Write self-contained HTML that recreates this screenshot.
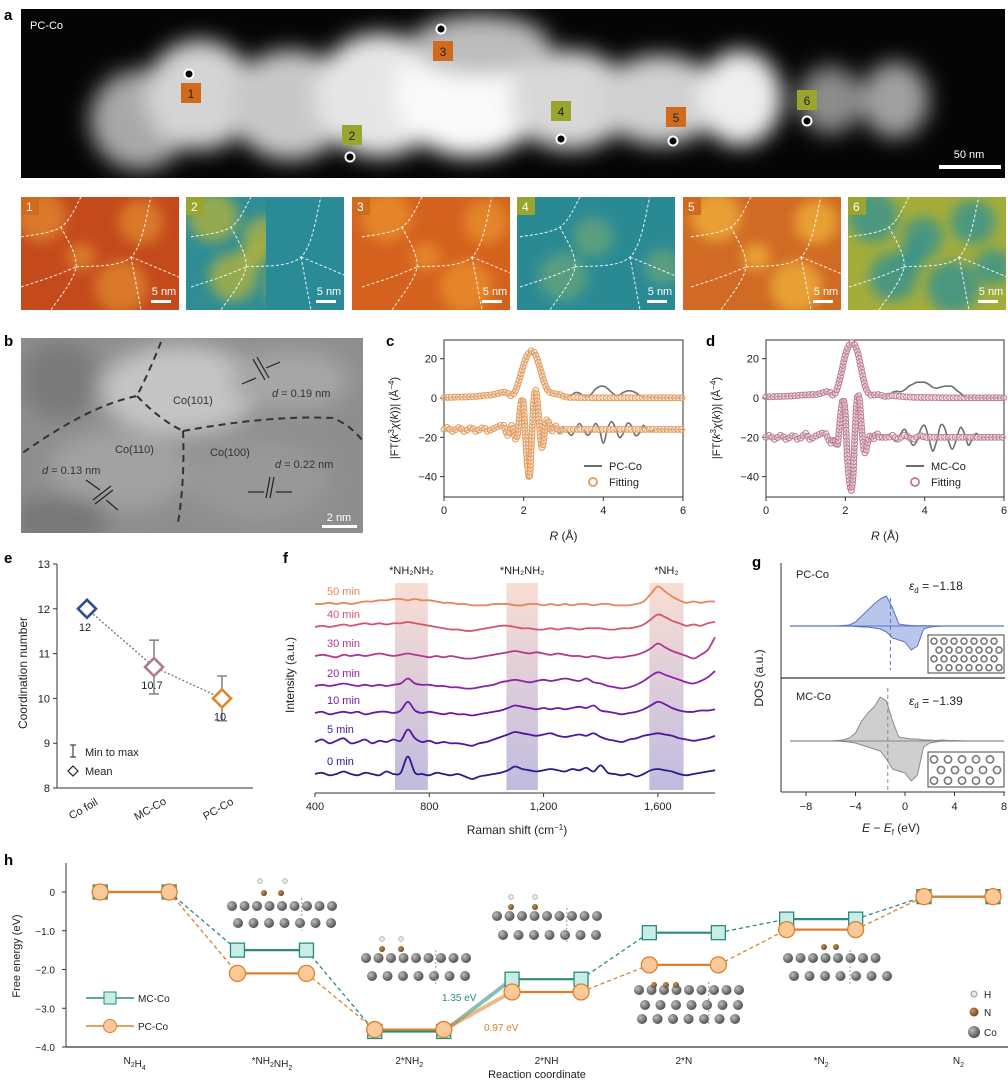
<!DOCTYPE html>
<html><head><meta charset="utf-8">
<style>
html,body{margin:0;padding:0;background:#fff;}
svg{display:block;font-family:"Liberation Sans",Arial,sans-serif;}
</style></head>
<body>
<svg id="fig" width="1008" height="1081" viewBox="0 0 1008 1081" xmlns="http://www.w3.org/2000/svg">
<defs>
<filter id="blur10" x="-20%" y="-40%" width="140%" height="180%"><feGaussianBlur stdDeviation="11"/></filter>
<filter id="blur6" x="-30%" y="-30%" width="160%" height="160%"><feGaussianBlur stdDeviation="6"/></filter>
<filter id="blur3"><feGaussianBlur stdDeviation="3"/></filter>
<clipPath id="clipA"><rect x="21" y="9" width="984" height="169"/></clipPath>
<clipPath id="clipB"><rect x="21" y="338" width="342" height="195"/></clipPath>
<linearGradient id="bandG" x1="0" y1="0" x2="0" y2="1"><stop offset="0" stop-color="#f8d8cc"/><stop offset="1" stop-color="#b4afd9"/></linearGradient>
<radialGradient id="ball" cx="0.35" cy="0.35" r="0.7"><stop offset="0" stop-color="#bdbdbd"/><stop offset="1" stop-color="#4a4a4a"/></radialGradient>
<radialGradient id="nball" cx="0.35" cy="0.35" r="0.7"><stop offset="0" stop-color="#c9935a"/><stop offset="1" stop-color="#6b4318"/></radialGradient>
</defs>

<!-- Panel a -->
<g>
<text x="4" y="20" font-size="15" font-weight="bold">a</text>
<rect x="21" y="9" width="984" height="169" fill="#050505"/>
<g clip-path="url(#clipA)" filter="url(#blur10)">
<ellipse cx="140" cy="120" rx="50" ry="50" fill="#a8a8a8"/>
<ellipse cx="200" cy="95" rx="55" ry="55" fill="#d4d4d4"/>
<ellipse cx="290" cy="105" rx="60" ry="55" fill="#c8c8c8"/>
<ellipse cx="380" cy="95" rx="65" ry="62" fill="#e6e6e6"/>
<ellipse cx="470" cy="95" rx="75" ry="62" fill="#fafafa"/>
<ellipse cx="480" cy="45" rx="70" ry="30" fill="#bcbcbc"/>
<ellipse cx="570" cy="100" rx="60" ry="50" fill="#d8d8d8"/>
<ellipse cx="660" cy="100" rx="60" ry="45" fill="#d0d0d0"/>
<ellipse cx="740" cy="98" rx="42" ry="48" fill="#eeeeee"/>
<ellipse cx="830" cy="100" rx="32" ry="34" fill="#8c8c8c"/>
<ellipse cx="895" cy="100" rx="34" ry="38" fill="#a0a0a0"/>
</g>
<text x="30" y="29" font-size="11" fill="#fff">PC-Co</text>
<g font-size="12" fill="#222" text-anchor="middle">
<circle cx="189" cy="74" r="4.5" fill="#000" stroke="#fff" stroke-width="2"/>
<rect x="181" y="83" width="20" height="20" fill="#d06a1c"/><text x="191" y="98">1</text>
<circle cx="350" cy="157" r="4.5" fill="#000" stroke="#fff" stroke-width="2"/>
<rect x="342" y="125" width="20" height="20" fill="#9aa52e"/><text x="352" y="140">2</text>
<circle cx="441" cy="29" r="4.5" fill="#000" stroke="#fff" stroke-width="2"/>
<rect x="433" y="41" width="20" height="20" fill="#d06a1c"/><text x="443" y="56">3</text>
<circle cx="561" cy="139" r="4.5" fill="#000" stroke="#fff" stroke-width="2"/>
<rect x="551" y="101" width="20" height="20" fill="#9aa52e"/><text x="561" y="116">4</text>
<circle cx="673" cy="141" r="4.5" fill="#000" stroke="#fff" stroke-width="2"/>
<rect x="666" y="107" width="20" height="20" fill="#d06a1c"/><text x="676" y="122">5</text>
<circle cx="807" cy="121" r="4.5" fill="#000" stroke="#fff" stroke-width="2"/>
<rect x="797" y="90" width="20" height="20" fill="#9aa52e"/><text x="807" y="105">6</text>
</g>
<text x="969" y="158" font-size="11" fill="#fff" text-anchor="middle">50 nm</text>
<rect x="939" y="165" width="62" height="4" fill="#fff"/>
</g>

<!-- tiles -->
<g id="tiles"></g>

<!-- Panel b -->
<g>
<text x="4" y="346" font-size="15" font-weight="bold">b</text>
<rect x="21" y="338" width="342" height="195" fill="#8e8e8e"/>
<g clip-path="url(#clipB)" filter="url(#blur10)">
<ellipse cx="180" cy="390" rx="80" ry="45" fill="#c4c4c4"/>
<ellipse cx="60" cy="380" rx="40" ry="40" fill="#7a7a7a"/>
<ellipse cx="290" cy="380" rx="60" ry="30" fill="#a6a6a6"/>
<ellipse cx="120" cy="470" rx="70" ry="40" fill="#a2a2a2"/>
<ellipse cx="260" cy="480" rx="70" ry="40" fill="#989898"/>
<ellipse cx="60" cy="520" rx="50" ry="25" fill="#777"/>
</g>
<g fill="none" stroke="#333" stroke-width="2" stroke-dasharray="7,5">
<path d="M161,342 Q150,370 137,396 Q90,405 21,454"/>
<path d="M137,396 Q160,420 183,431"/>
<path d="M183,431 Q185,480 178,523"/>
<path d="M183,431 Q270,415 333,418 Q350,425 362,440"/>
</g>
<g font-size="11" fill="#333">
<text x="173" y="404">Co(101)</text>
<text x="115" y="453">Co(110)</text>
<text x="210" y="456">Co(100)</text>
<text x="272" y="397"><tspan font-style="italic">d</tspan> = 0.19 nm</text>
<text x="42" y="474"><tspan font-style="italic">d</tspan> = 0.13 nm</text>
<text x="275" y="468"><tspan font-style="italic">d</tspan> = 0.22 nm</text>
</g>
<g stroke="#222" stroke-width="1.2">
<line x1="253" y1="359" x2="265" y2="380"/><line x1="257" y1="357" x2="269" y2="378"/>
<line x1="242" y1="384" x2="256" y2="378"/><line x1="280" y1="362" x2="266" y2="368"/>
<line x1="95" y1="504" x2="113" y2="490"/><line x1="93" y1="500" x2="111" y2="486"/>
<line x1="86" y1="480" x2="100" y2="490"/><line x1="118" y1="510" x2="106" y2="500"/>
<line x1="270" y1="477" x2="266" y2="498"/><line x1="274" y1="477" x2="270" y2="498"/>
<line x1="248" y1="492" x2="264" y2="492"/><line x1="292" y1="492" x2="276" y2="492"/>
</g>
<text x="339" y="521" font-size="11" fill="#fff" text-anchor="middle">2 nm</text>
<rect x="322" y="525" width="35" height="3" fill="#fff"/>
</g>

<g id="charts"></g>
</svg>

<script>
// ===== Panel c data =====
const cMagData = [0.2,0.3,0.3,0.4,0.4,0.5,0.6,0.7,0.8,1.0, 1.2,1.4,1.7,2.0,2.6,3.0,2.4,1.2,4,10, 17,22,24,22,16,9,4,2.5,2.2,1.8, 0.8,0.3,1.5,2.8,2.5,1.2,0.5,2,4.5,5.8, 6,5,3,1.5,1.5,2.8,3.6,3.6,2.8,1.5, 0.3,0.2,0.2,0.2,0.1,0.1,0.1,0.1,0.1,0.1, 0.1];
const cMagFit  = [0.2,0.3,0.3,0.4,0.4,0.5,0.6,0.7,0.8,1.0, 1.2,1.4,1.7,2.0,2.6,3.0,2.4,1.2,4,10, 17,22,24,22,16,9,4,2.5,2.2,1.8, 0.8,0.4,0.3,0.3,0.2,0.2,0.2,0.1,0.1,0.1, 0.1,0.1,0.1,0.1,0.1,0.1,0.1,0.1,0.1,0.1, 0.1,0.1,0.1,0.1,0.1,0.1,0.1,0.1,0.1,0.1, 0.1];
const cImData  = [-16,-15,-17,-16,-15,-17,-16,-15,-17,-16,-15,-17,-16,-15,-14,
 -14,-17,-19,-17,-14,-17,-21,-18,-8,-1,-4,-22,-35,-40,-22,-2,4,-3,-15,-25,-22,-13,-11,-14,-17,-15,-14,-16,-18,-16,-15,
 -17,-19,-16,-13,-16,-19,-17,-13,-16,-23,-16,-12,-15,-20,-18,-13,-14,-19,-18,-14,-16,-17,-16,-16,-16,-16,-16,-16,-16,-16];
const cImFit   = [-16,-15,-17,-16,-15,-17,-16,-15,-17,-16,-15,-17,-16,-15,-14,
 -14,-17,-19,-17,-14,-17,-21,-18,-8,-1,-4,-22,-35,-40,-22,-2,4,-3,-15,-25,-22,-13,-11,-14,-17,-15,-14,-16,-17,-16,-16,
 -16,-16,-16,-16,-16,-16,-16,-16,-16,-16,-16,-16,-16,-16,-16,-16,-16,-16,-16,-16,-16,-16,-16,-16,-16,-16,-16,-16,-16,-16];
// ===== Panel d data =====
const dMagData = [0.5,0.6,0.7,0.8,0.8,0.9,1.0,1.1,1.3,1.5, 1.6,1.7,1.8,1.8,2.5,3.2,3.0,1.5,5,13, 22,27,28,24,15,6,2,1.5,1.8,1.4, 0.8,1.5,3,3.4,3.2,4.2,6,7,8,8, 8,7,5.5,5,5.5,6,6,5.8,4,2.5, 0.8,0.2,0.2,0.1,0.1,0.1,0.1,0.1,0.1,0.1, 0.1];
const dMagFit  = [0.5,0.6,0.7,0.8,0.8,0.9,1.0,1.1,1.3,1.5, 1.6,1.7,1.8,1.8,2.5,3.2,3.0,1.5,5,13, 22,27,28,24,15,6,2,1.5,1.8,1.4, 0.8,1.0,1.2,1.0,0.8,0.6,0.5,0.4,0.3,0.3, 0.2,0.2,0.2,0.2,0.1,0.1,0.1,0.1,0.1,0.1, 0.1,0.1,0.1,0.1,0.1,0.1,0.1,0.1,0.1,0.1, 0.1];
const dImData  = [-20,-19,-21,-20,-19,-21,-20,-19,-21,-20,-18,-21,-20,-19,-18,
 -18,-20,-22,-23,-21,-22,-24,-15,-5,-1,-8,-30,-42,-47,-38,-14,0,0,-12,-24,-28,-24,-20,-19,-21,-19,-18,-20,-21,-19,-20,
 -19,-21,-22,-18,-16,-20,-24,-22,-16,-14,-20,-27,-22,-14,-15,-22,-26,-21,-15,-18,-24,-21,-18,-20,-20,-20,-20,-20,-20,-20];
const dImFit   = [-20,-19,-21,-20,-19,-21,-20,-19,-21,-20,-18,-21,-20,-19,-18,
 -18,-20,-22,-23,-21,-22,-24,-15,-5,-1,-8,-30,-42,-47,-38,-14,0,0,-12,-24,-28,-24,-20,-19,-21,-19,-18,-20,-20,-20,-20,
 -20,-19,-21,-20,-19,-20,-21,-20,-19,-20,-20,-20,-20,-20,-20,-20,-20,-20,-20,-20,-20,-20,-20,-20,-20,-20,-20,-20,-20,-20];
const rTicks = [0,2,4,6];
const ftTicks = [20,0,-20,-40];

// ===== Panel e data =====
const eCats = ["Co foil","MC-Co","PC-Co"];
const eMean = [12,10.7,10];
const eMin  = [12,10.1,9.5];
const eMax  = [12,11.3,10.5];
const eLabels = ["12","10.7","10"];
const eTicks = [13,12,11,10,9,8];

// ===== Panel f data =====
const ramanStart = 400, ramanStep = 25;
const traceNames = ["0 min","5 min","10 min","20 min","30 min","40 min","50 min"];
const t0  = [0,1,-1,0,2,0,-1,1,0,-1, 2,0,1,14,1,0,-1,1,0,-1, 0,-2,-4,-2,-1,0,1,3,6,4, 3,2,3,4,3,2,4,3,5,2, 7,1,0,-1,0,-2,0,3,4,3, 2,0,-1,0,1,2,3];
const t5  = [0,2,-1,1,3,-1,0,2,-1,1, 0,2,1,10,3,0,1,-1,0,-1, -1,-2,-3,-1,0,2,4,6,8,7, 6,5,6,7,5,4,5,6,5,7, 4,2,1,0,2,3,5,6,7,6, 5,3,2,1,2,3,5];
const t10 = [0,1,-1,0,1,0,1,-1,0,1, 1,0,2,9,2,0,1,0,-1,0, -1,-1,-2,-1,0,1,2,4,6,5, 4,3,4,3,4,3,4,5,4,6, 2,1,0,-1,0,1,3,6,9,7, 4,2,1,1,2,2,3];
const t20 = [0,1,0,1,2,1,0,1,0,1, 0,1,2,6,2,1,1,0,0,-1, -1,-2,-2,-1,0,1,3,4,5,4, 3,4,5,4,5,6,5,4,6,3, 2,0,-1,-2,-1,1,4,8,11,9, 7,5,3,2,4,7,12];
const t30 = [0,1,0,-1,1,0,1,0,1,2, 1,0,1,2,1,0,-1,0,-1,0, -1,-2,-2,-1,0,1,2,3,4,3, 2,3,2,1,2,1,0,0,-1,0, -1,-2,-1,-1,0,1,3,6,10,7, 4,2,0,-2,1,5,15];
const t40 = [0,1,0,1,2,1,2,3,2,3, 2,3,3,4,3,2,1,0,-1,-2, -2,-3,-3,-2,-1,0,1,1,0,-1, -1,-2,-2,-1,-2,-1,-1,-2,-1,-1, -1,-2,-2,-1,-1,0,2,6,10,8, 5,3,1,2,1,3,4];
const t50 = [0,0,1,0,1,0,1,2,2,3, 3,4,4,3,4,3,3,2,1,1, 0,0,-1,-1,-1,0,0,0,-1,-1, 0,0,-1,0,-1,0,-1,0,0,-1, 0,0,-1,-1,-1,0,2,8,14,10, 6,3,1,2,1,2,2];
const traceBase = [774,742,713,686,656,627,604];
const bandRanges = [[680,795],[1070,1180],[1570,1690]];
const bandLabels = ["*NH\u2082NH\u2082","*NH\u2082NH\u2082","*NH\u2082"];
const fTicks = [400,800,1200,1600];
const fTickLabels = ["400","800","1,200","1,600"];

// ===== Panel g data =====
const gE = [-6,-5.5,-5,-4.5,-4,-3.5,-3,-2.5,-2,-1.5,-1,-0.5,0,0.5,1,1.5,2,2.5,3,3.5,4,4.5,5,5.5,6];
const pcUp   = [0,0,0.5,1,4,10,16,22,27,30,18,2,1,0.5,0.3,0.2,0.1,0,0,0,0,0,0,0,0];
const pcDown = [0,0,0,0,-0.5,-1,-1,-2,-3,-6,-12,-14,-16,-24,-20,-3,-1,-0.5,0,0,0,0,0,0,0];
const mcUp   = [0,0.5,1,3,8,20,28,34,44,40,20,4,3,2,2,1,1,0.5,1,0.5,0.5,0.3,0,0,0];
const mcDown = [0,0,-0.5,-1,-2,-4,-6,-8,-10,-18,-28,-30,-32,-40,-34,-6,-2,-1,0,0,0,0,0,0,0];
const dBand = [-1.18,-1.39];
const gTicks = [-8,-4,0,4,8];

// ===== Panel h data =====
const hCats = ["N2H4","*NH2NH2","2*NH2","2*NH","2*N","*N2","N2"];
const mcG = [0,-1.5,-3.6,-2.25,-1.05,-0.7,-0.12];
const pcG = [0,-2.1,-3.55,-2.58,-1.88,-0.97,-0.12];
const hTicks = [0,-1,-2,-3,-4];
const hTickLabels = ["0","\u22121.0","\u22122.0","\u22123.0","\u22124.0"];

// ====================================================
const NS = 'http://www.w3.org/2000/svg';
const root = document.getElementById('charts');
function mk(tag, attrs, parent){const e=document.createElementNS(NS,tag);for(const k in attrs)e.setAttribute(k,attrs[k]);(parent||root).appendChild(e);return e;}
function tx(x,y,s,attrs,parent){const e=mk('text',Object.assign({x:x,y:y,'font-size':11,fill:'#222'},attrs||{}),parent);e.textContent=s;return e;}
function pathFrom(pts){let d='M'+pts[0][0].toFixed(1)+','+pts[0][1].toFixed(1);for(let i=1;i<pts.length;i++)d+='L'+pts[i][0].toFixed(1)+','+pts[i][1].toFixed(1);return d;}
function smooth(pts){
  if(pts.length<3) return pathFrom(pts);
  let d='M'+pts[0][0].toFixed(1)+','+pts[0][1].toFixed(1);
  for(let i=0;i<pts.length-1;i++){
    const p0=pts[Math.max(0,i-1)],p1=pts[i],p2=pts[i+1],p3=pts[Math.min(pts.length-1,i+2)];
    const c1=[p1[0]+(p2[0]-p0[0])/6,p1[1]+(p2[1]-p0[1])/6];
    const c2=[p2[0]-(p3[0]-p1[0])/6,p2[1]-(p3[1]-p1[1])/6];
    d+='C'+c1[0].toFixed(1)+','+c1[1].toFixed(1)+' '+c2[0].toFixed(1)+','+c2[1].toFixed(1)+' '+p2[0].toFixed(1)+','+p2[1].toFixed(1);
  }
  return d;
}
// R grids (x positions of samples)
const magR = []; for(let i=0;i<=60;i++) magR.push(i/10);
const imR = []; for(let i=0;i<=14;i++) imR.push(i/10); for(let i=0;i<=30;i++) imR.push(1.5+i*0.05); for(let i=1;i<=30;i++) imR.push(3+i/10);

// ===== EXAFS panels c,d =====
function exafs(opt){
  const g = mk('g',{});
  
  
  const x0=opt.x0, x1=opt.x1, yTop=340, yBot=497;
  const sx=r=>x0+r/6*(x1-x0);
  const sy=v=>398-v*1.965;
  const lbl = tx(opt.lx,346,opt.letter,{'font-size':15,'font-weight':'bold',fill:'#000'},g);
  
  
  const frame = mk('rect',{x:x0,y:yTop,width:x1-x0,height:yBot-yTop,fill:'none',stroke:'#333','stroke-width':1},g);
  
  
  rTicks.forEach(t=>{
    mk('line',{x1:sx(t),x2:sx(t),y1:yBot,y2:yBot+4,stroke:'#333'},g);
    const tl=tx(sx(t),514,String(t),{'text-anchor':'middle'},g);
    
    
  });
  ftTicks.forEach(t=>{
    mk('line',{x1:x0-4,x2:x0,y1:sy(t),y2:sy(t),stroke:'#333'},g);
    const tl=tx(x0-7,sy(t)+4,t<0?'\u2212'+(-t):String(t),{'text-anchor':'end'},g);
    
    
  });
  const xt=tx((x0+x1)/2,540,'',{'text-anchor':'middle','font-size':12},g);
  xt.innerHTML='<tspan font-style="italic">R</tspan> (\u00c5)';
  
  
  const yt=tx(0,0,'',{'text-anchor':'middle','font-size':11,transform:'translate('+(x0-46)+',418) rotate(-90)'},g);
  yt.innerHTML='|FT(<tspan font-style="italic">k</tspan><tspan dy="-4" font-size="8">3</tspan><tspan dy="4" font-style="italic">\u03c7</tspan>(<tspan font-style="italic">k</tspan>))| (\u00c5<tspan dy="-4" font-size="8">\u22124</tspan><tspan dy="4">)</tspan>';
  
  
  // data lines
  const magPts=opt.magData.map((v,i)=>[sx(magR[i]),sy(v)]);
  const imPts=opt.imData.map((v,i)=>[sx(imR[i]),sy(v)]);
  [magPts,imPts].forEach((p,k)=>{
    const l=mk('path',{d:smooth(p),fill:'none',stroke:'#6e6e6e','stroke-width':1.6},g);
    
    
  });
  // fit circles along fit path
  [opt.magFit.map((v,i)=>[sx(magR[i]),sy(v)]), opt.imFit.map((v,i)=>[sx(imR[i]),sy(v)])].forEach((p,k)=>{
    const hp=mk('path',{d:smooth(p),fill:'none',stroke:'none'},g);
    const L=hp.getTotalLength();
    for(let s=0;s<=L;s+=3.6){
      const q=hp.getPointAtLength(s);
      const c=mk('circle',{cx:q.x.toFixed(1),cy:q.y.toFixed(1),r:2.9,fill:'rgba(255,255,255,0.35)',stroke:opt.col,'stroke-width':1.1},g);
      
      
    }
  });
  const lx=x0+140;
  const leg=mk('g',{},g);
  
  
  mk('line',{x1:lx,x2:lx+18,y1:466,y2:466,stroke:'#6e6e6e','stroke-width':2},leg);
  tx(lx+25,470,opt.sample,{},leg);
  mk('circle',{cx:lx+9,cy:482,r:4,fill:'#fff',stroke:opt.col,'stroke-width':1.8},leg);
  tx(lx+25,486,'Fitting',{},leg);
}
exafs({name:'panel-c-chart',letter:'c',lx:386,x0:444,x1:683,magData:cMagData,magFit:cMagFit,imData:cImData,imFit:cImFit,col:'#e89a55',sample:'PC-Co'});
exafs({name:'panel-d-chart',letter:'d',lx:706,x0:766,x1:1004,magData:dMagData,magFit:dMagFit,imData:dImData,imFit:dImFit,col:'#c07a95',sample:'MC-Co'});

// ===== Panel e =====
(function(){
  const g=mk('g',{});
  
  
  const sy=v=>564+(13-v)*44.8;
  const xs=[87,154,222];
  const l=tx(4,563,'e',{'font-size':15,'font-weight':'bold',fill:'#000'},g);
  
  
  mk('line',{x1:57,x2:57,y1:564,y2:788,stroke:'#333'},g);
  mk('line',{x1:57,x2:253,y1:788,y2:788,stroke:'#333'},g);
  eTicks.forEach(t=>{
    mk('line',{x1:53,x2:57,y1:sy(t),y2:sy(t),stroke:'#333'},g);
    const tl=tx(50,sy(t)+4,String(t),{'text-anchor':'end'},g);
    
    
  });
  const yt=tx(0,0,'Coordination number',{'text-anchor':'middle','font-size':12,transform:'translate(27,673) rotate(-90)'},g);
  
  
  eCats.forEach((c,i)=>{
    const t=tx(0,0,c,{'text-anchor':'middle',transform:'translate('+(xs[i]-2)+',812) rotate(-30)'},g);
    
    
  });
  const dl=mk('path',{d:pathFrom(eMean.map((v,i)=>[xs[i],sy(v)])),fill:'none',stroke:'#777','stroke-width':1.3,'stroke-dasharray':'2,2'},g);
  
  
  const cols=['#2f4f8f','#b07a92','#e08530'];
  eMean.forEach((v,i)=>{
    if(eMax[i]>eMin[i]){
      const eb=mk('path',{d:'M'+(xs[i]-5)+','+sy(eMax[i])+'h10M'+xs[i]+','+sy(eMax[i])+'V'+sy(eMin[i])+'M'+(xs[i]-5)+','+sy(eMin[i])+'h10',stroke:'#888','stroke-width':1.6,fill:'none'},g);
      
      
    }
    const y=sy(v),s=9;
    const dm=mk('path',{d:'M'+xs[i]+','+(y-s)+'L'+(xs[i]+s)+','+y+'L'+xs[i]+','+(y+s)+'L'+(xs[i]-s)+','+y+'Z',fill:'#fff',stroke:cols[i],'stroke-width':2.6},g);
    
    
    const vl=tx(xs[i]-2,y+s+13,eLabels[i],{'text-anchor':'middle'},g);
    
    
  });
  const leg=mk('g',{},g);
  
  
  mk('path',{d:'M70,745h6M73,745V757M70,757h6',stroke:'#444','stroke-width':1.2,fill:'none'},leg);
  tx(85,756,'Min to max',{},leg);
  mk('path',{d:'M73,766L78,771L73,776L68,771Z',fill:'#fff',stroke:'#222','stroke-width':1.2},leg);
  tx(85,775,'Mean',{},leg);
})();

// ===== Panel f =====
(function(){
  const g=mk('g',{});
  
  
  const sx=v=>315+(v-400)*(400/1400);
  const l=tx(283,563,'f',{'font-size':15,'font-weight':'bold',fill:'#000'},g);
  
  
  bandRanges.forEach((b,i)=>{
    const r=mk('rect',{x:sx(b[0]),y:583,width:sx(b[1])-sx(b[0]),height:207,fill:'url(#bandG)',opacity:0.85},g);
    
    
    const t=tx((sx(b[0])+sx(b[1]))/2,574,bandLabels[i],{'text-anchor':'middle'},g);
    
    
  });
  mk('line',{x1:315,x2:715,y1:793,y2:793,stroke:'#333'},g);
  fTicks.forEach((t,i)=>{
    mk('line',{x1:sx(t),x2:sx(t),y1:793,y2:797,stroke:'#333'},g);
    const tl=tx(sx(t),810,fTickLabels[i],{'text-anchor':'middle'},g);
    
    
  });
  const xt=tx(517,834,'',{'text-anchor':'middle','font-size':12},g);
  xt.innerHTML='Raman shift (cm<tspan dy="-4" font-size="8">\u22121</tspan><tspan dy="4">)</tspan>';
  
  
  const yt=tx(0,0,'Intensity (a.u.)',{'text-anchor':'middle','font-size':12,transform:'translate(294,675) rotate(-90)'},g);
  
  
  const traces=[t0,t5,t10,t20,t30,t40,t50];
  const cols=['#2b1a8c','#4b17a0','#6a1aa8','#8c22a6','#b03a8c','#d4566e','#e8845a'];
  traces.forEach((arr,k)=>{
    const pts=arr.map((v,i)=>[sx(ramanStart+i*ramanStep),traceBase[k]-v*1.25]);
    const p=mk('path',{d:smooth(pts),fill:'none',stroke:cols[k],'stroke-width':1.8,'stroke-linejoin':'round'},g);
    
    
    const t=tx(327,traceBase[k]-9,traceNames[k],{fill:cols[k]},g);
    
    
  });
})();

// ===== Panel g =====
(function(){
  const g=mk('g',{});
  
  
  const sx=e=>905+e*12.375;
  const l=tx(752,567,'g',{'font-size':15,'font-weight':'bold',fill:'#000'},g);
  
  
  mk('line',{x1:781,x2:781,y1:563,y2:792,stroke:'#333'},g);
  mk('line',{x1:781,x2:1005,y1:792,y2:792,stroke:'#333'},g);
  mk('line',{x1:781,x2:1005,y1:678,y2:678,stroke:'#333','stroke-width':1.2},g);
  gTicks.forEach(t=>{
    mk('line',{x1:sx(t),x2:sx(t),y1:792,y2:796,stroke:'#333'},g);
    const tl=tx(sx(t),810,t<0?'\u2212'+(-t):String(t),{'text-anchor':'middle'},g);
    
    
  });
  const xt=tx(891,832,'',{'text-anchor':'middle','font-size':12},g);
  xt.innerHTML='<tspan font-style="italic">E</tspan> \u2212 <tspan font-style="italic">E</tspan><tspan dy="3" font-size="8">f</tspan><tspan dy="-3"> (eV)</tspan>';
  
  
  const yt=tx(0,0,'DOS (a.u.)',{'text-anchor':'middle','font-size':12,transform:'translate(763,678) rotate(-90)'},g);
  
  
  function dos(up,down,base,fill,stroke,name){
    mk('line',{x1:790,x2:1004,y1:base,y2:base,stroke:stroke,'stroke-width':1.2},g);
    [up,down].forEach((arr,k)=>{
      const pts=arr.map((v,i)=>[sx(gE[i]),base-v]);
      const d=pathFrom(pts)+'L'+sx(gE[gE.length-1])+','+base+'L'+sx(gE[0])+','+base+'Z';
      const p=mk('path',{d:d,fill:fill,stroke:stroke,'stroke-width':1,'stroke-linejoin':'round'},g);
      
      
    });
  }
  dos(pcUp,pcDown,626,'#b8c6ec','#5b72c8','pc-co-dos');
  dos(mcUp,mcDown,741,'#cfcfcf','#8a8a8a','mc-co-dos');
  const dl1=mk('line',{x1:sx(dBand[0]),x2:sx(dBand[0]),y1:598,y2:670,stroke:'#5b72c8','stroke-dasharray':'4,3'},g);
  
  
  const dl2=mk('line',{x1:sx(dBand[1]),x2:sx(dBand[1]),y1:688,y2:790,stroke:'#888','stroke-dasharray':'4,3'},g);
  
  
  tx(796,578,'PC-Co',{},g);
  tx(796,700,'MC-Co',{},g);
  [[590,0],[705,1]].forEach(a=>{
    const t=tx(909,a[0],'',{'font-size':12},g);
    t.innerHTML='<tspan font-style="italic">\u03b5</tspan><tspan dy="3" font-size="8">d</tspan><tspan dy="-3"> = \u2212'+(-dBand[a[1]]).toFixed(2)+'</tspan>';
    
    
  });
  // insets
  [[635,673,1],[752,787,0]].forEach(b=>{
    const ins=mk('g',{},g);
    
    
    mk('rect',{x:928,y:b[0],width:76,height:b[1]-b[0],fill:'#fff',stroke:'#444'},ins);
    const rows=b[2]?4:3, dy=(b[1]-b[0])/(rows+0.3);
    for(let r=0;r<rows;r++)for(let c=0;c<(b[2]?7:5);c++){
      const step=b[2]?10:14;
      mk('circle',{cx:934+c*step+(r%2)*(step/2),cy:b[0]+dy*(r+0.7),r:b[2]?3:3.6,fill:'#fff',stroke:'#777','stroke-width':1.6},ins);
    }
  });
})();

// ===== Panel h =====
(function(){
  const g=mk('g',{});
  
  
  const x0=66, cw=137.3;
  const cx=i=>x0+cw*(i+0.5);
  const sy=v=>892-v*38.75;
  const hw=34.5;
  const l=tx(4,865,'h',{'font-size':15,'font-weight':'bold',fill:'#000'},g);
  
  
  mk('line',{x1:x0,x2:x0,y1:863,y2:1047,stroke:'#333'},g);
  mk('line',{x1:x0,x2:1008,y1:1047,y2:1047,stroke:'#333','stroke-width':1.3},g);
  hTicks.forEach((t,i)=>{
    mk('line',{x1:x0-4,x2:x0,y1:sy(t),y2:sy(t),stroke:'#333'},g);
    const tl=tx(55,sy(t)+4,hTickLabels[i],{'text-anchor':'end','font-size':10},g);
    
    
  });
  const yt=tx(0,0,'Free energy (eV)',{'text-anchor':'middle','font-size':11,transform:'translate(20,956) rotate(-90)'},g);
  
  
  const xt=tx(537,1078,'Reaction coordinate',{'text-anchor':'middle','font-size':11},g);
  
  
  hCats.forEach((c,i)=>{
    const t=tx(cx(i),1064,'',{'text-anchor':'middle','font-size':10},g);
    t.innerHTML=c.replace(/(\d)(?=$|[A-Z*])/g,(m,d,off)=>off===0?d:'<tspan dy="3" font-size="7">'+d+'</tspan><tspan dy="-3"></tspan>');
    
    
  });
  // slabs
  function slab(x,y,n1,n2,y2,rows3){
    const s=mk('g',{},g);
    
    
    for(let i=0;i<n1;i++) mk('circle',{cx:x+i*12.5,cy:y,r:5,fill:'url(#ball)'},s);
    for(let i=0;i<n2;i++) mk('circle',{cx:x+6+i*15.5,cy:y2,r:5,fill:'url(#ball)'},s);
    if(rows3) for(let i=0;i<n2;i++) mk('circle',{cx:x+3+i*15.5,cy:y2+14,r:5,fill:'url(#ball)'},s);
    mk('line',{x1:x+n1*12.5*0.62,x2:x+n1*12.5*0.62,y1:y-8,y2:(rows3?y2+20:y2+8),stroke:'#999','stroke-dasharray':'2,2'},s);
    return s;
  }
  function mol(s,pts){
    pts.forEach(p=>{ if(p[2]==='N') mk('circle',{cx:p[0],cy:p[1],r:3,fill:'url(#nball)'},s); else mk('circle',{cx:p[0],cy:p[1],r:2.4,fill:'#e8e8e8',stroke:'#999','stroke-width':0.6},s);});
  }
  let s;
  s=slab(232,906,9,7,923); mol(s,[[264,893,'N'],[281,893,'N'],[260,881,'H'],[285,881,'H']]);
  s=slab(366,958,9,7,976); mol(s,[[382,949,'N'],[401,949,'N'],[382,939,'H'],[401,939,'H']]);
  s=slab(497,916,9,7,935); mol(s,[[511,907,'N'],[535,907,'N'],[511,897,'H'],[535,897,'H']]);
  s=slab(639,990,9,7,1005,true); mol(s,[[654,985,'N'],[666,985,'N'],[676,985,'N']]);
  s=slab(788,958,8,7,976); mol(s,[[824,947,'N'],[836,947,'N']]);
  // series
  function series(vals,col,fill,shape,name,solidIdx){
    vals.forEach((v,i)=>{
      if(i<vals.length-1){
        const solid=(i===solidIdx);
        const c=mk('line',{x1:cx(i)+hw,y1:sy(v),x2:cx(i+1)-hw,y2:sy(vals[i+1]),stroke:col,'stroke-width':solid?4:1.3,'stroke-dasharray':solid?'none':'4,3',opacity:solid?0.55:1},g);
        
        
      }
    });
    vals.forEach((v,i)=>{
      const lv=mk('line',{x1:cx(i)-hw,x2:cx(i)+hw,y1:sy(v),y2:sy(v),stroke:col,'stroke-width':2.2},g);
      
      
      [-hw,hw].forEach(o=>{
        const m = shape==='sq'
          ? mk('rect',{x:cx(i)+o-7,y:sy(v)-7,width:14,height:14,fill:fill,stroke:col,'stroke-width':1.3},g)
          : mk('circle',{cx:cx(i)+o,cy:sy(v),r:8,fill:fill,stroke:col,'stroke-width':1.3},g);
        
        
      });
    });
  }
  series(mcG,'#2a8a7e','#c8ede6','sq','mc-co',2);
  series(pcG,'#d9822b','#fbc89a','ci','pc-co',2);
  const a1=tx(442,1001,'1.35 eV',{fill:'#2a8a7e','font-size':10},g);
  
  
  const a2=tx(484,1031,'0.97 eV',{fill:'#d9822b','font-size':10},g);
  
  
  // legends
  const leg=mk('g',{},g);
  
  
  mk('line',{x1:86,x2:134,y1:998,y2:998,stroke:'#2a8a7e','stroke-width':1.5},leg);
  mk('rect',{x:104,y:992,width:12,height:12,fill:'#c8ede6',stroke:'#2a8a7e'},leg);
  tx(138,1002,'MC-Co',{'font-size':10},leg);
  mk('line',{x1:86,x2:134,y1:1026,y2:1026,stroke:'#d9822b','stroke-width':1.5},leg);
  mk('circle',{cx:110,cy:1026,r:6.5,fill:'#fbc89a',stroke:'#d9822b'},leg);
  tx(138,1030,'PC-Co',{'font-size':10},leg);
  const al=mk('g',{},g);
  
  
  mk('circle',{cx:974,cy:994,r:3,fill:'#e8e8e8',stroke:'#999'},al); tx(984,998,'H',{'font-size':10},al);
  mk('circle',{cx:974,cy:1012,r:4.5,fill:'url(#nball)'},al); tx(984,1016,'N',{'font-size':10},al);
  mk('circle',{cx:974,cy:1032,r:6,fill:'url(#ball)'},al); tx(984,1036,'Co',{'font-size':10},al);
})();

// ===== Tiles =====
(function(){
  const host=document.getElementById('tiles');
  const xs=[21,186,352,517,683,848];
  const base=['#c44a1c','#2f8d95','#d4621e','#2a8a94','#d06a24','#a4ad3a'];
  const patch=['#e08a2c','#b7b33a','#e9922e','#6aa67a','#f0b23a','#2f9095'];
  const tag=['#d06a1c','#9aa52e','#d06a1c','#9aa52e','#d06a1c','#9aa52e'];
  xs.forEach((x,i)=>{
    const g=mk('g',{},host);
    
    
    const cid='tc'+i;
    const cp=mk('clipPath',{id:cid},g); mk('rect',{x:x,y:197,width:158,height:113},cp);
    mk('rect',{x:x,y:197,width:158,height:113,fill:base[i]},g);
    const pg=mk('g',{'clip-path':'url(#'+cid+')'},g);
    const pf=mk('g',{filter:'url(#blur6)'},pg);
    const spots=[[20,20,25],[70,40,20],[120,25,22],[40,80,24],[100,90,26],[140,70,18],[60,60,14]];
    spots.forEach((s,k)=>{ if((k+i)%2===0||i===1||i===5) mk('circle',{cx:x+s[0]+(i*7)%15,cy:197+s[1],r:s[2],fill:patch[i],opacity:0.75},pf);});
    if(i===1){ mk('rect',{x:x+80,y:197,width:80,height:113,fill:'#2a8a96'},pg); }
    const dp=mk('g',{fill:'none',stroke:'#fff','stroke-width':1,'stroke-dasharray':'3,2',opacity:0.9},pg);
    [[[0,40],[40,30],[60,0]],[[40,30],[55,70],[30,113]],[[55,70],[110,60],[130,0]],[[110,60],[120,113]],[[110,60],[158,80]],[[0,90],[30,80],[55,70]]].forEach(ln=>{
      mk('path',{d:smooth(ln.map(p=>[x+p[0]+(i*5)%12,197+p[1]]))},dp);
    });
    mk('rect',{x:x,y:197,width:18,height:18,fill:tag[i]},g);
    tx(x+5,211,String(i+1),{fill:'#fff','font-size':12},g);
    tx(x+143,295,'5 nm',{fill:'#fff','font-size':11,'text-anchor':'middle'},g);
    mk('rect',{x:x+130,y:300,width:20,height:3,fill:'#fff'},g);
  });
})();
</script>
</body></html>
